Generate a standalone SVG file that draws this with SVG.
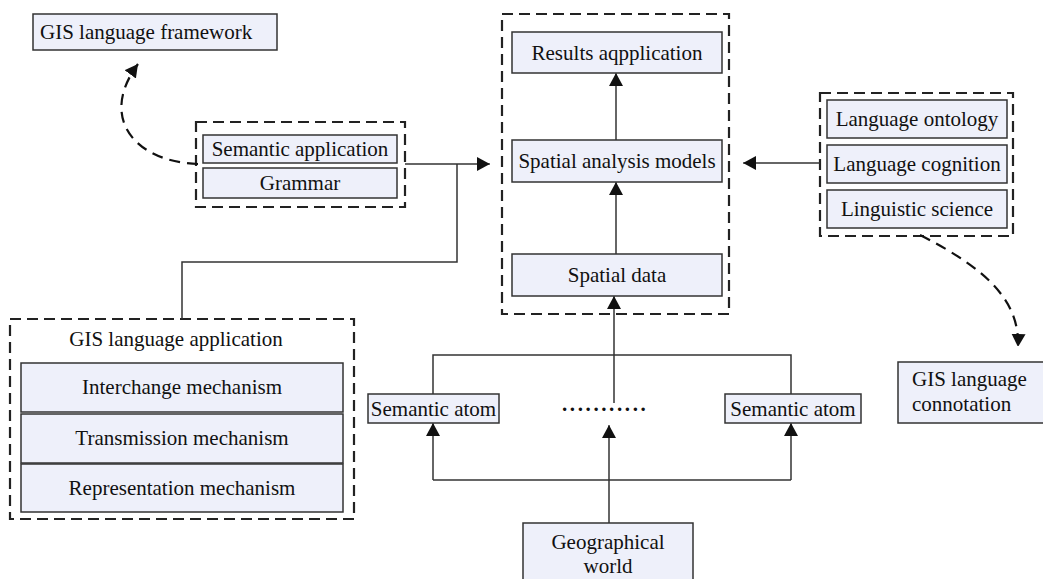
<svg xmlns="http://www.w3.org/2000/svg" width="1043" height="579" viewBox="0 0 1043 579">
<style>
.box{fill:#eef0fa;stroke:#333;stroke-width:1.5}
.grp{fill:none;stroke:#222;stroke-width:2.2;stroke-dasharray:11 6}
.t{font-family:"Liberation Serif","Times New Roman",serif;font-size:21px;fill:#111;text-anchor:middle}
.tl{font-family:"Liberation Serif","Times New Roman",serif;font-size:21px;fill:#111}
.ln{fill:none;stroke:#333;stroke-width:1.5}
.dc{fill:none;stroke:#111;stroke-width:2.2;stroke-dasharray:11 7}
</style>
<defs>
<marker id="ah" markerWidth="12" markerHeight="15" refX="13" refY="7" orient="auto" markerUnits="userSpaceOnUse">
<path d="M0,0 L13,7 L0,14 Z" fill="#111"/>
</marker>
</defs>
<rect width="1043" height="579" fill="#fff"/>

<g id="gis-framework">
<rect class="box" x="33" y="14" width="244" height="36"/>
<text class="tl" x="40" y="39">GIS language framework</text>
</g>

<g id="semantic-group">
<rect class="grp" x="196" y="122" width="209" height="85"/>
<rect class="box" x="203" y="135" width="194" height="28"/>
<text class="t" x="300" y="156">Semantic application</text>
<rect class="box" x="203" y="168" width="194" height="30"/>
<text class="t" x="300" y="190">Grammar</text>
</g>

<g id="core-group">
<rect class="grp" x="502" y="14" width="227" height="300"/>
</g>
<g id="results">
<rect class="box" x="512" y="32" width="210" height="41"/>
<text class="t" x="617" y="60">Results aqpplication</text>
</g>
<g id="spatial-models">
<rect class="box" x="512" y="140" width="210" height="42"/>
<text class="t" x="617" y="168">Spatial analysis models</text>
</g>
<g id="spatial-data">
<rect class="box" x="512" y="254" width="210" height="42"/>
<text class="t" x="617" y="282">Spatial data</text>
</g>

<g id="language-group">
<rect class="grp" x="820" y="93" width="193" height="143"/>
<rect class="box" x="827" y="100" width="180" height="38"/>
<text class="t" x="917" y="126">Language ontology</text>
<rect class="box" x="827" y="145" width="180" height="38"/>
<text class="t" x="917" y="171">Language cognition</text>
<rect class="box" x="827" y="190" width="180" height="38"/>
<text class="t" x="917" y="216">Linguistic science</text>
</g>

<g id="gis-connotation">
<rect class="box" x="898" y="362" width="150" height="61"/>
<text class="tl" x="912" y="386">GIS language</text>
<text class="tl" x="912" y="411">connotation</text>
</g>

<g id="gis-application">
<rect class="grp" x="10" y="319" width="344" height="200"/>
<text class="t" x="176" y="346">GIS language application</text>
<rect class="box" x="21" y="363" width="322" height="49"/>
<text class="t" x="182" y="394">Interchange mechanism</text>
<rect class="box" x="21" y="414" width="322" height="49"/>
<text class="t" x="182" y="445">Transmission mechanism</text>
<rect class="box" x="21" y="464" width="322" height="48"/>
<text class="t" x="182" y="495">Representation mechanism</text>
</g>

<g id="semantic-atom-left">
<rect class="box" x="368" y="394" width="131" height="29"/>
<text class="t" x="433.5" y="416">Semantic atom</text>
</g>
<g id="ellipsis">
<text class="tl" x="562" y="411" font-weight="bold" letter-spacing="2.6">...........</text>
</g>
<g id="semantic-atom-right">
<rect class="box" x="725" y="394" width="136" height="29"/>
<text class="t" x="793" y="416">Semantic atom</text>
</g>

<g id="geo-world">
<rect class="box" x="523" y="523" width="170" height="62"/>
<text class="t" x="608" y="549">Geographical</text>
<text class="t" x="608" y="573">world</text>
</g>

<g id="connectors">
<path class="ln" d="M405,164 L490,164" marker-end="url(#ah)"/>
<path class="ln" d="M457,164 L457,262 L182,262 L182,319"/>
<path class="ln" d="M820,163 L743,163" marker-end="url(#ah)"/>
<path class="ln" d="M616,140 L616,73" marker-end="url(#ah)"/>
<path class="ln" d="M616,254 L616,182" marker-end="url(#ah)"/>
<path class="ln" d="M614,403 L614,296" marker-end="url(#ah)"/>
<path class="ln" d="M433,394 L433,355 L791,355 L791,394"/>
<path class="ln" d="M433,480 L791,480"/>
<path class="ln" d="M433,480 L433,423" marker-end="url(#ah)"/>
<path class="ln" d="M791,480 L791,423" marker-end="url(#ah)"/>
<path class="ln" d="M609,523 L609,425" marker-end="url(#ah)"/>
<path class="dc" d="M198,164 C135,162 98,118 138,64" marker-end="url(#ah)"/>
<path class="dc" d="M920,235 C985,268 1020,300 1018,347" marker-end="url(#ah)"/>
</g>
</svg>
